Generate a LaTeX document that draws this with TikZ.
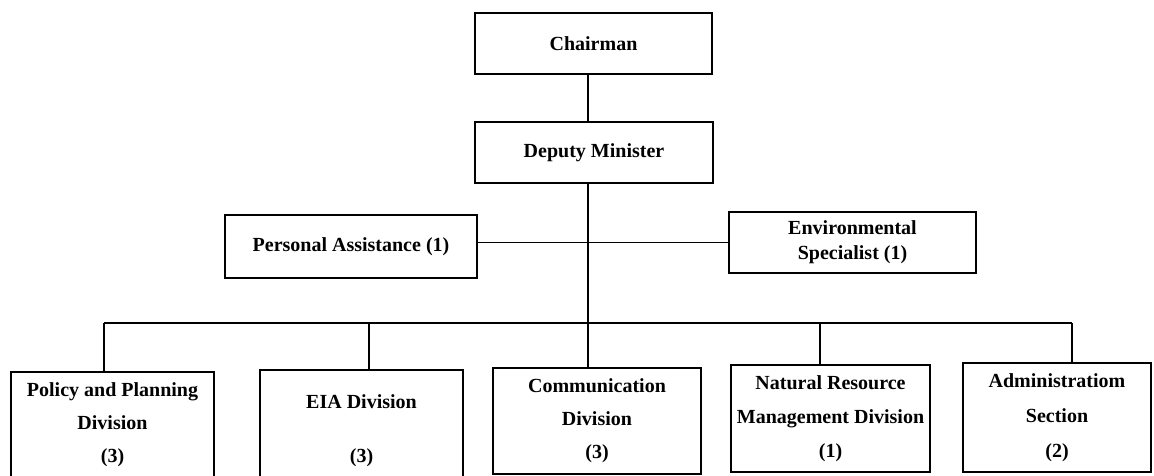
\documentclass[tikz,border=0pt]{standalone}
\usepackage{fontspec}
\setmainfont{Liberation Serif}
\begin{document}
\begin{tikzpicture}[x=1pt,y=-1pt,
  box/.style={draw=black, line width=1.8pt, inner sep=0pt, align=center,
    font=\bfseries\fontsize{20}{32}\selectfont},
  txt/.style={inner sep=0pt, align=center, font=\bfseries\fontsize{20}{32}\selectfont},
  trunk/.style={line width=2.6pt},
  busline/.style={line width=1.6pt},
  drop/.style={line width=1.8pt},
  thinline/.style={line width=1.1pt}]
\useasboundingbox (0,0) rectangle (1154,475);
% top
\node[box, minimum width=237pt, minimum height=61pt] (ch) at (593.5,43.5) {Chairman};
\node[box, minimum width=238pt, minimum height=61pt] (dm) at (594,152.5) {Deputy Minister};
% middle
\node[box, minimum width=252pt, minimum height=63pt] (pa) at (351,246.5) {Personal Assistance (1)};
\node[box, minimum width=247pt, minimum height=61pt, font=\bfseries\fontsize{20}{25}\selectfont] (es) at (852.5,242.5) {Environmental\\Specialist (1)};
% bottom
\node[box, minimum width=203pt, minimum height=105pt, font=\bfseries\fontsize{20}{33}\selectfont] (pp) at (112.5,424.5) {Policy and Planning\\Division\\(3)};
\node[box, minimum width=203pt, minimum height=107pt] (eia) at (361.5,423.5) {};
\node[txt, font=\bfseries\fontsize{20}{54}\selectfont] (eiat) at (361.5,431) {EIA Division\\(3)};
\node[box, minimum width=208pt, minimum height=106pt, font=\bfseries\fontsize{20}{33}\selectfont] (cd) at (597,421) {Communication\\Division\\(3)};
\node[box, minimum width=199pt, minimum height=107pt, font=\bfseries\fontsize{20}{34}\selectfont] (nrm) at (830.5,418.5) {Natural Resource\\Management Division\\(1)};
\node[box, minimum width=188pt, minimum height=109pt, font=\bfseries\fontsize{20}{35}\selectfont] (ad) at (1057,417.5) {Administratiom\\Section\\(2)};
% bus coordinates
\coordinate (bc) at (588,323);
\coordinate (b1) at (104,323);
\coordinate (b2) at (369,323);
\coordinate (b4) at (820,323);
\coordinate (b5) at (1072,323);
% connectors
\draw[trunk] (ch.south -| bc) -- (dm.north -| bc);
\draw[trunk] (dm.south -| bc) -- (bc);
\draw[thinline] (es.west) -- (es.west -| pa.east);
\draw[busline] (b1) -- (b5);
\draw[drop] (b1) -- (b1 |- pp.north);
\draw[drop] (b2) -- (b2 |- eia.north);
\draw[drop] (bc) -- (bc |- cd.north);
\draw[drop] (b4) -- (b4 |- nrm.north);
\draw[drop] (b5) -- (b5 |- ad.north);
\end{tikzpicture}
\end{document}
